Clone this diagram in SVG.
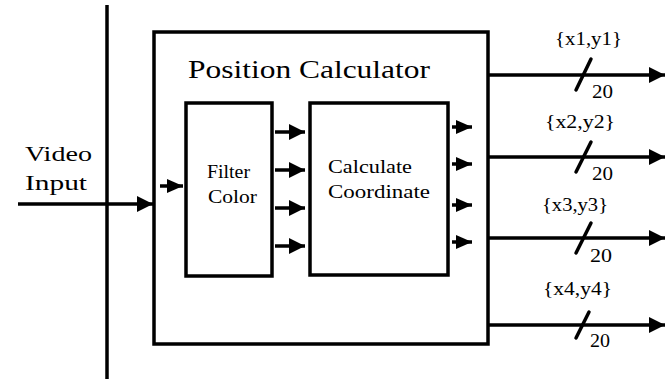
<svg xmlns="http://www.w3.org/2000/svg" width="665" height="379" viewBox="0 0 665 379">
  <style>
    .box { fill: none; stroke: #000; stroke-width: 3.5; }
    .wire { fill: none; stroke: #000; stroke-width: 3.5; }
    .slash { stroke: #000; stroke-width: 3.5; stroke-linecap: round; }
    .head { fill: #000; }
    .title { font-size: 25px; }
    .side { font-size: 22px; }
    .inner { font-size: 19px; }
    .bus { font-size: 18px; }
    .width { font-size: 18px; }
  </style>
  <defs>
    <marker id="arrow" viewBox="0 0 16 16" refX="16" refY="8" markerWidth="16" markerHeight="16" orient="auto" markerUnits="userSpaceOnUse">
      <path d="M0,0 L16,8 L0,16 Z" class="head"/>
    </marker>
    <marker id="arrow-sm" viewBox="0 0 16 14" refX="16" refY="7" markerWidth="16" markerHeight="14" orient="auto" markerUnits="userSpaceOnUse">
      <path d="M0,0 L16,7 L0,14 Z" class="head"/>
    </marker>
  </defs>
  <rect width="665" height="379" fill="#fff"/>

  <g font-family="Liberation Serif, Times New Roman, serif" fill="#000">
  <!-- vertical input rail -->
  <line x1="107" y1="5" x2="107" y2="379" class="wire"/>

  <text class="side" x="25" y="161" textLength="67" lengthAdjust="spacingAndGlyphs">Video</text>
  <text class="side" x="25" y="190" textLength="62" lengthAdjust="spacingAndGlyphs">Input</text>

  <g id="position-calculator">
    <rect x="154" y="32" width="334" height="312" class="box"/>
    <text class="title" x="188" y="78" textLength="242" lengthAdjust="spacingAndGlyphs">Position  Calculator</text>
  </g>

  <g id="filter-color">
    <rect x="186" y="103" width="86" height="173" class="box"/>
    <text class="inner" x="207" y="178" textLength="43" lengthAdjust="spacingAndGlyphs">Filter</text>
    <text class="inner" x="208" y="203" textLength="49" lengthAdjust="spacingAndGlyphs">Color</text>
  </g>

  <g id="calculate-coordinate">
    <rect x="310" y="103" width="138" height="172" class="box"/>
    <text class="inner" x="328" y="173" textLength="84" lengthAdjust="spacingAndGlyphs">Calculate</text>
    <text class="inner" x="328" y="198" textLength="102" lengthAdjust="spacingAndGlyphs">Coordinate</text>
  </g>

  <g id="connectors">
    <!-- video input -->
    <line x1="18" y1="204" x2="153" y2="204" class="wire" marker-end="url(#arrow)"/>
    <line x1="160" y1="186" x2="183" y2="186" class="wire" marker-end="url(#arrow-sm)"/>

    <!-- filter to calculate -->
    <line x1="275" y1="132" x2="305" y2="132" class="wire" marker-end="url(#arrow)"/>
    <line x1="275" y1="170" x2="305" y2="170" class="wire" marker-end="url(#arrow)"/>
    <line x1="275" y1="208" x2="305" y2="208" class="wire" marker-end="url(#arrow)"/>
    <line x1="275" y1="246" x2="305" y2="246" class="wire" marker-end="url(#arrow)"/>

    <!-- calculate outputs -->
    <line x1="452" y1="127" x2="472" y2="127" class="wire" marker-end="url(#arrow-sm)"/>
    <line x1="452" y1="164" x2="472" y2="164" class="wire" marker-end="url(#arrow-sm)"/>
    <line x1="452" y1="205" x2="472" y2="205" class="wire" marker-end="url(#arrow-sm)"/>
    <line x1="452" y1="242" x2="472" y2="242" class="wire" marker-end="url(#arrow-sm)"/>

    <!-- output buses -->
    <line x1="488" y1="75" x2="665" y2="75" class="wire" marker-end="url(#arrow)"/>
    <line x1="488" y1="157" x2="665" y2="157" class="wire" marker-end="url(#arrow)"/>
    <line x1="488" y1="238" x2="665" y2="238" class="wire" marker-end="url(#arrow)"/>
    <line x1="488" y1="325" x2="665" y2="325" class="wire" marker-end="url(#arrow)"/>

    <line x1="576" y1="90" x2="591" y2="59" class="slash"/>
    <line x1="576" y1="172" x2="591" y2="142" class="slash"/>
    <line x1="576" y1="253" x2="591" y2="223" class="slash"/>
    <line x1="576" y1="338" x2="589" y2="312" class="slash"/>
  </g>

  <text class="bus" x="555" y="45" textLength="67" lengthAdjust="spacingAndGlyphs">{x1,y1}</text>
  <text class="bus" x="545" y="128" textLength="70" lengthAdjust="spacingAndGlyphs">{x2,y2}</text>
  <text class="bus" x="542" y="211" textLength="66" lengthAdjust="spacingAndGlyphs">{x3,y3}</text>
  <text class="bus" x="543" y="295" textLength="69" lengthAdjust="spacingAndGlyphs">{x4,y4}</text>

  <text class="width" x="592" y="98" textLength="21" lengthAdjust="spacingAndGlyphs">20</text>
  <text class="width" x="592" y="180" textLength="21" lengthAdjust="spacingAndGlyphs">20</text>
  <text class="width" x="590" y="262" textLength="22" lengthAdjust="spacingAndGlyphs">20</text>
  <text class="width" x="590" y="347" textLength="20" lengthAdjust="spacingAndGlyphs">20</text>
  </g>
</svg>
